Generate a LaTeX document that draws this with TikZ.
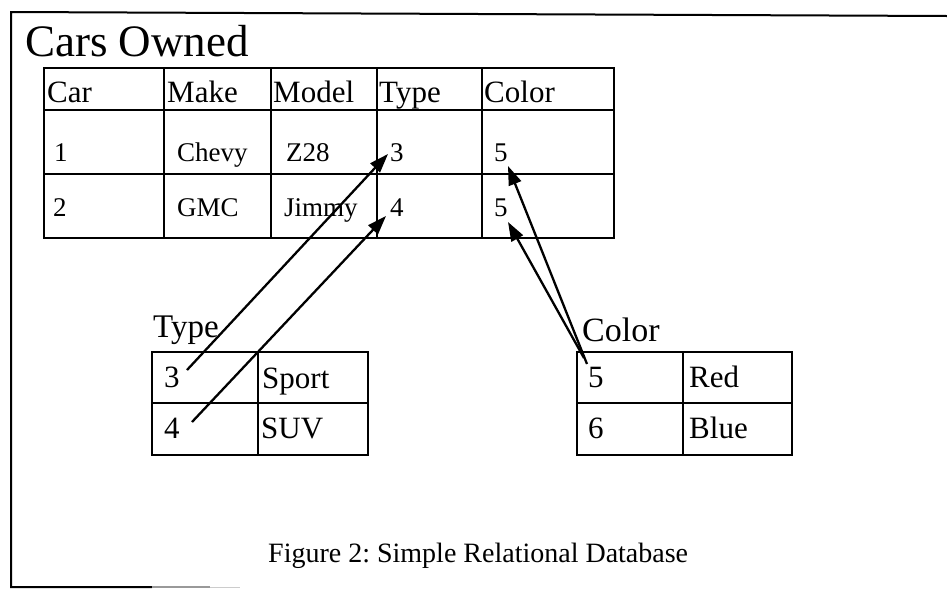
\documentclass[tikz,border=0pt]{standalone}
\usepackage{fontspec}
\setmainfont{Liberation Serif}
\usetikzlibrary{arrows.meta}
\frenchspacing
\begin{document}
\begin{tikzpicture}[x=1pt,y=-1pt,
  grid/.style={line width=2.4pt},
  frame/.style={line width=2pt},
  hdr/.style={anchor=base west, inner sep=0pt, font=\fontsize{31}{36}\selectfont},
  cell/.style={anchor=base west, inner sep=0pt, font=\fontsize{27}{32}\selectfont},
  sml/.style={anchor=base west, inner sep=0pt, font=\fontsize{31}{36}\selectfont},
  link/.style={line width=2.3pt, -{Triangle[length=19pt,width=13pt]}}]
\useasboundingbox (0,0) rectangle (947,590);
% outer frame
\draw[frame] (947,16) -- (11,12) -- (11,587) -- (152,587);
\draw[line width=1.2pt, black!40] (152,587) -- (210,587);
\draw[line width=1pt, black!20] (210,587) -- (240,587);
% title
\node[anchor=base west, inner sep=0pt, font=\fontsize{45}{54}\selectfont] (title) at (25,56) {Cars Owned};
% main table
\draw[grid] (44,68) rectangle (614,238);
\draw[grid] (44,110) -- (614,110);
\draw[grid] (44,174) -- (614,174);
\foreach \cx in {164,271,377,482} \draw[grid] (\cx,68) -- (\cx,238);
\node[hdr] (hcar) at (47,102) {Car};
\node[hdr] (hmake) at (167,102) {Make};
\node[hdr] (hmodel) at (273,102) {Model};
\node[hdr] (htype) at (379,102) {Type};
\node[hdr] (hcolor) at (484,102) {Color};
\node[cell] (r1car) at (54,161) {1};
\node[cell] (r1make) at (177,161) {Chevy};
\node[cell] (r1model) at (286,161) {Z28};
\node[cell] (r1type) at (390,161) {3};
\node[cell] (r1color) at (494,161) {5};
\node[cell] (r2car) at (53,216) {2};
\node[cell] (r2make) at (177,216) {GMC};
\node[cell] (r2model) at (284,216) {Jimmy};
\node[cell] (r2type) at (390,216) {4};
\node[cell] (r2color) at (494,216) {5};
% type table
\node[sml, font=\fontsize{33}{38}\selectfont] (typelbl) at (153,337) {Type};
\draw[grid] (152,352) rectangle (368,455);
\draw[grid] (152,403) -- (368,403);
\draw[grid] (258,352) -- (258,455);
\node[sml] (t3) at (164,387) {3};
\node[sml] (t4) at (164,438) {4};
\node[sml] (tsport) at (262,388) {Sport};
\node[sml] (tsuv) at (261,438) {SUV};
% color table
\node[sml, font=\fontsize{34}{40}\selectfont] (colorlbl) at (582,341) {Color};
\draw[grid] (577,352) rectangle (792,455);
\draw[grid] (577,403) -- (792,403);
\draw[grid] (683,352) -- (683,455);
\node[sml] (c5) at (588,387) {5};
\node[sml] (c6) at (588,438) {6};
\node[sml] (cred) at (689,387) {Red};
\node[sml] (cblue) at (689,438) {Blue};
% caption
\node[anchor=base west, inner sep=0pt, font=\fontsize{28}{34}\selectfont] (caption) at (268,562) {Figure 2: Simple Relational Database};
% connector end points
\coordinate (a3) at (187,370);
\coordinate (a4) at (192,422);
\coordinate (b3) at (388,154);
\coordinate (b4) at (386,216);
\coordinate (a5) at (587,364);
\coordinate (a5b) at (584,358);
\coordinate (b5) at (508,166);
\coordinate (b5b) at (508,222);
\draw[link] (a3) -- (b3);
\draw[link] (a4) -- (b4);
\draw[link] (a5) -- (b5);
\draw[link] (a5b) -- (b5b);
\end{tikzpicture}
\end{document}
